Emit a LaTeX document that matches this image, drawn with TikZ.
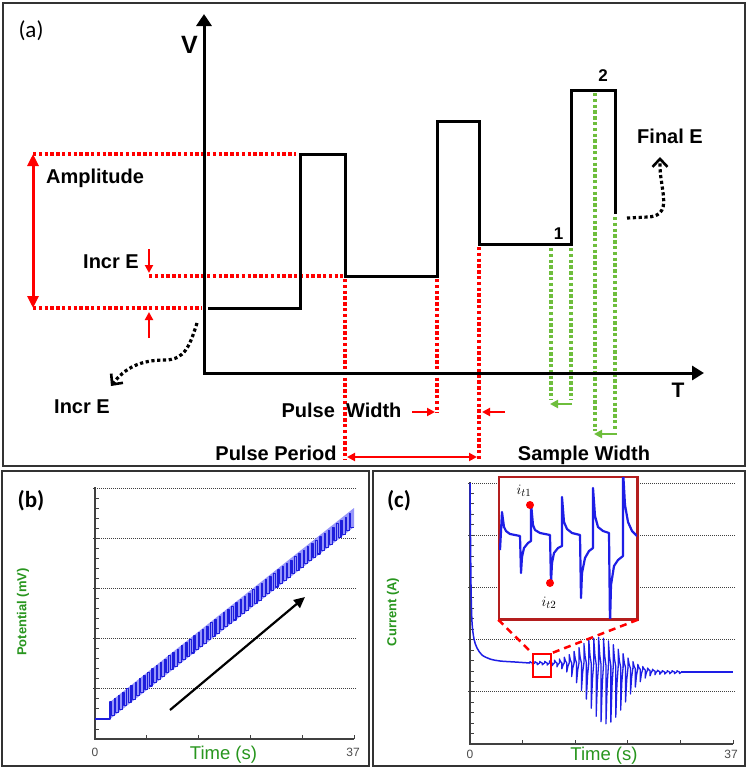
\documentclass[tikz,border=0pt]{standalone}
\usepackage{fontspec}
\setmainfont{Liberation Sans}
\newfontfamily\calfont{Carlito}
\usetikzlibrary{arrows.meta}
\definecolor{gr}{RGB}{110,190,60}
\definecolor{tgreen}{RGB}{40,150,30}
\definecolor{trblue}{RGB}{30,30,230}
\definecolor{bandblue}{RGB}{150,150,250}
\definecolor{inframe}{RGB}{180,30,30}
\tikzset{
 frm/.style={draw=black!80, line width=2pt},
 lbl/.style={font=\fontsize{20}{24}\selectfont\bfseries, inner sep=0pt, anchor=base},
 numlbl/.style={font=\fontsize{17}{20}\selectfont\bfseries, inner sep=0pt, anchor=base},
 panlbl/.style={font=\calfont\fontsize{23}{26}\selectfont\bfseries, inner sep=0pt, anchor=base},
 axisln/.style={line width=3pt, black, line join=miter},
 wave/.style={line width=3pt, black, line join=miter},
 rdot/.style={red, line width=3.4pt, dash pattern=on 3.4pt off 2.4pt},
 gdot/.style={gr, line width=3.4pt, dash pattern=on 3.4pt off 2.4pt},
 bdot/.style={black, line width=3.2pt, dash pattern=on 3.2pt off 2.6pt, -{Straight Barb[length=8pt,width=15pt,line width=2.6pt]}},
 rarr/.style={red, line width=2pt, -{Triangle[length=8pt,width=8pt]}},
 garr/.style={gr, line width=2.5pt, -{Triangle[length=8pt,width=8pt]}},
 gridln/.style={black!75, line width=0.8pt, dash pattern=on 1pt off 1pt},
 plotax/.style={black!75, line width=1.2pt},
 tickln/.style={black!75, line width=0.8pt},
 trace/.style={draw=trblue, line width=1.5pt, line join=round},
 spike/.style={draw=trblue, line width=1.3pt, line join=round},
 instrace/.style={draw=trblue, line width=2.2pt, line join=round},
 axnum/.style={font=\fontsize{12}{14}\selectfont, text=black!70, inner sep=0pt},
 timelbl/.style={font=\fontsize{18.5}{21}\selectfont, text=tgreen, inner sep=0pt, anchor=base},
 ylbl/.style={font=\fontsize{13}{15}\selectfont\bfseries, text=tgreen, inner sep=0pt, rotate=90},
 rdash/.style={red, line width=2.5pt, dash pattern=on 7pt off 5pt}
}
\begin{document}
\begin{tikzpicture}[x=1pt,y=-1pt]
\useasboundingbox (0,0) rectangle (747,769);
\fill[white] (0,0) rectangle (747,769);
% frames
\draw[frm] (2.5,2.5) rectangle (745,466);
\draw[frm] (2,471) rectangle (368.5,766);
\draw[frm] (373,471) rectangle (745,766);

% ---------------- panel (a)
\node[font=\calfont\fontsize{23}{26}\selectfont, inner sep=0pt, anchor=base] (la) at (31,37) {(a)};
\coordinate (Vt) at (204,14);
\coordinate (O) at (204,373);
\coordinate (Tt) at (704,373);
% red dotted guides
\draw[rdot] (33,154) -- (296,154);
\draw[rdot] (33,308) -- (202,308);
\draw[rdot] (149,276) -- (343,276);
\draw[rdot] (345,279) -- (345,460);
\draw[rdot] (437,279) -- (437,413);
\draw[rdot] (479,247) -- (479,460);
% green dotted guides
\draw[gdot] (551,248) -- (551,399);
\draw[gdot] (571,248) -- (571,399);
\draw[gdot] (595,93) -- (595,431);
\draw[gdot] (615,217) -- (615,431);
% axes
\draw[axisln, {Triangle[length=12pt,width=15pt]}-{Triangle[length=12pt,width=14pt]}] (Vt) -- (O) -- (Tt);
% waveform
\draw[wave] (208,308) -- (300,308) -- (300,154) -- (345,154) -- (345,276) -- (437,276) -- (437,121) -- (479,121) -- (479,244) -- (571,244) -- (571,90) -- (615,90) -- (615,214);
% red arrows
\coordinate (ampT) at (33,154);
\coordinate (ampB) at (33,308);
\draw[red, line width=3pt, {Triangle[length=12pt,width=11pt]}-{Triangle[length=12pt,width=11pt]}] (ampT) -- (ampB);
\coordinate (i1a) at (149,249); \coordinate (i1b) at (149,273);
\coordinate (i2a) at (149,338); \coordinate (i2b) at (149,312);
\draw[rarr] (i1a) -- (i1b);
\draw[rarr] (i2a) -- (i2b);
\coordinate (pwa) at (412,412); \coordinate (pwb) at (435,412);
\coordinate (pwc) at (505,412); \coordinate (pwd) at (482,412);
\draw[rarr] (pwa) -- (pwb);
\draw[rarr] (pwc) -- (pwd);
\coordinate (ppa) at (347,457); \coordinate (ppb) at (477,457);
\draw[red, line width=2pt, {Triangle[length=8pt,width=8pt]}-{Triangle[length=8pt,width=8pt]}] (ppa) -- (ppb);
% green arrows
\coordinate (ga) at (572,404); \coordinate (gb) at (550,404);
\coordinate (gc) at (617,434); \coordinate (gd) at (594,434);
\draw[garr] (ga) -- (gb);
\draw[garr] (gc) -- (gd);
% black dotted curved arrows
\coordinate (c1s) at (197,323); \coordinate (c1e) at (111,386);
\draw[bdot] (c1s) .. controls (190,345) and (185,360) .. (165,360) .. controls (140,360) and (125,368) .. (c1e);
\coordinate (c2s) at (627,218); \coordinate (c2e) at (660,157);
\draw[bdot] (c2s) -- (648,217) .. controls (668,216) and (664,200) .. (662,185) .. controls (660,172) .. (c2e);
% labels
\node[font=\fontsize{25}{28}\selectfont\bfseries, inner sep=0pt, anchor=base] (V) at (189.5,53) {V};
\node[font=\fontsize{21}{24}\selectfont\bfseries, inner sep=0pt, anchor=base] (T) at (678,397) {T};
\node[lbl] (amp) at (95,183) {Amplitude};
\node[lbl] (incr1) at (111,268) {Incr E};
\node[lbl] (incr2) at (82,413) {Incr E};
\node[lbl] (pw) at (341.5,417) {Pulse\ \ Width};
\node[lbl] (pp) at (276,460) {Pulse Period};
\node[lbl] (sw) at (584,460) {Sample Width};
\node[lbl] (fe) at (670,143) {Final E};
\node[numlbl] (n1) at (558.5,239) {1};
\node[numlbl] (n2) at (603,81) {2};

% ---------------- panel (b)
\node[panlbl] (lb) at (31,507) {(b)};
\foreach \i in {0,...,4} { \draw[gridln] (93,488+50.2*\i) -- (356,488+50.2*\i); }
\draw[plotax] (95,487) -- (95,739) -- (354,739);
\foreach \i in {1,...,24} { \draw[tickln] (95,488+10.04*\i) -- (99,488+10.04*\i); }
\foreach \j in {1,...,5} { \draw[tickln] (95+51.8*\j,739) -- (95+51.8*\j,735); }
\node[axnum] (b0) at (95,752.5) {0};
\node[axnum] (b37) at (353,752.5) {37};
\node[timelbl] (bt) at (223.5,759) {Time (s)};
\node[ylbl] (by) at (23,612) {Potential (mV)};
\fill[bandblue] (110,719) -- (110,702) -- (354,508) -- (354,527) -- cycle;
\draw[draw={rgb,255:red,30;green,30;blue,220}, line width=1.1pt, line join=round] (95,719) -- (110,719)
  \foreach \i in {1,...,58} { -- ++(0,-17) -- ++(1.4,0) -- ++(0,13.7) -- ++(2.8,0) };
\coordinate (bas) at (170,710); \coordinate (bae) at (305,597);
\draw[black, line width=2.2pt, -{Triangle[length=11pt,width=10pt]}] (bas) -- (bae);

% ---------------- panel (c)
\node[panlbl] (lc) at (399,507) {(c)};
\foreach \i in {0,...,4} { \draw[gridln] (468,483+52.2*\i) -- (735,483+52.2*\i); }
\draw[plotax] (470,482) -- (470,744) -- (733,744);
\foreach \i in {1,...,24} { \draw[tickln] (470,483+10.44*\i) -- (474,483+10.44*\i); }
\foreach \j in {1,...,5} { \draw[tickln] (470+52.6*\j,744) -- (470+52.6*\j,740); }
\node[axnum] (c0) at (470,754) {0};
\node[axnum] (c37) at (731,754) {37};
\node[timelbl] (ct) at (604,760) {Time (s)};
\node[ylbl] (cy) at (393,612) {Current (A)};
% current trace
\draw[trace] plot[smooth, tension=0.5] coordinates {(470,483) (471,585) (472,622) (474,639) (477,648) (482,655) (490,659) (500,661) (515,662) (530,663)};
\foreach \k in {0,...,30} {
  \pgfmathsetmacro\xx{530+4.9*\k}
  \pgfmathsetmacro\du{(\xx-600)/27}
  \pgfmathsetmacro\dd{(\xx-603)/27}
  \pgfmathsetmacro\up{1.3+26*exp(0-(\du)*(\du))}
  \pgfmathsetmacro\dn{1.6+57*exp(0-(\dd)*(\dd))}
  \pgfmathsetmacro\bb{663+9*min(max((\xx-585)/75,0),1)}
  \draw[spike] (\xx,\bb) -- ++(0,-\up) -- ++(1.2,0.65*\up) -- ++(1.25,0.35*\up) -- ++(0,\dn) -- ++(1.2,-0.65*\dn) -- ++(1.25,-0.35*\dn);
}
\draw[trace] (681,672) -- (733,672);
% inset
\node[draw=inframe, fill=white, line width=1.5pt, minimum width=138pt, minimum height=142pt, inner sep=0pt] (inset) at (568,548) {};
\begin{scope}
\clip (499,477) rectangle (637,619);
\draw[instrace] (500,550) -- (502,512) -- (504,527) -- (506,531) -- (510,534) -- (520,536) -- (521,573) -- (522,557) -- (524,548) -- (528,543) -- (531,541) -- (531,503) -- (533,525) -- (535,530) -- (540,533) -- (550,535) -- (551,583) -- (552,563) -- (554,553) -- (558,548) -- (562,546) -- (562,497) -- (564,522) -- (567,529) -- (572,533) -- (580,535) -- (581,598) -- (582,573) -- (585,558) -- (589,551) -- (593,548) -- (593,488) -- (595,516) -- (598,527) -- (603,531) -- (609,533) -- (610,625) -- (611,585) -- (614,566) -- (618,560) -- (623,556) -- (623,470) -- (625,505) -- (628,522) -- (632,531) -- (637,536);
\end{scope}
\draw[draw=inframe, line width=1.5pt] (inset.south west) rectangle (inset.north east);
\fill[red] (530,505) circle (4pt);
\fill[red] (550,583) circle (4pt);
\node[font=\fontsize{15}{17}\selectfont, inner sep=0pt] (it1) at (524,491) {$i_{t1}$};
\node[font=\fontsize{15}{17}\selectfont, inner sep=0pt] (it2) at (549,603) {$i_{t2}$};
\node[draw=red, line width=2pt, minimum width=18pt, minimum height=23pt, inner sep=0pt] (sq) at (542,665.5) {};
\draw[rdash] (inset.south west) -- (sq.north west);
\draw[rdash] (inset.south east) -- (sq.north east);
\end{tikzpicture}
\end{document}
